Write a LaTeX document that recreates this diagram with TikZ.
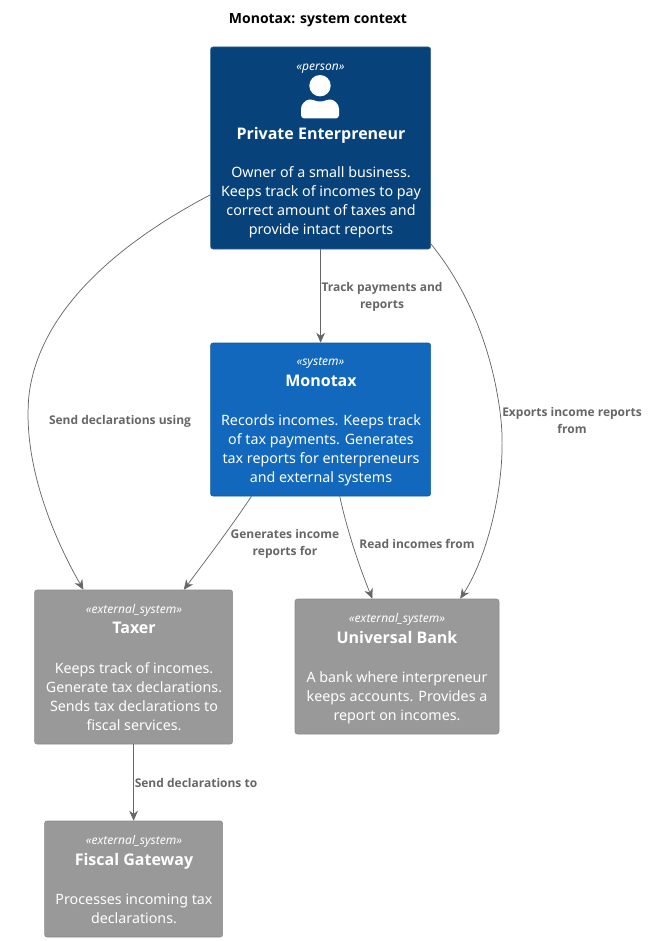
\documentclass[tikz,border=0pt]{standalone}
\usepackage{fontspec}
\setmainfont{Noto Sans}
\newfontfamily\boldface{Open Sans}
\usetikzlibrary{arrows.meta}
\definecolor{personblue}{HTML}{08427B}
\definecolor{systemblue}{HTML}{1168BD}
\definecolor{extgrey}{HTML}{999999}
\definecolor{linegrey}{HTML}{666666}
\newcommand{\stereo}[1]{{\fontsize{9}{10}\selectfont\itshape «#1»}}
\newcommand{\boxtitle}[1]{{\fontsize{12}{14}\selectfont\boldface\bfseries #1}}
\tikzset{
  sysbox/.style={rounded corners=1.8pt,text=white,align=center,inner sep=0pt,
    font=\fontsize{10.7}{14.25}\selectfont},
  personbox/.style={sysbox,fill=personblue,draw=personblue!85!white},
  intbox/.style={sysbox,fill=systemblue,draw=systemblue!85!black},
  extbox/.style={sysbox,fill=extgrey,draw=extgrey!90!black},
  rel/.style={draw=linegrey,line width=0.55pt,-{Stealth[length=7.5pt,width=6.5pt]}},
  rellabel/.style={text=linegrey,align=center,inner sep=0pt,
    font=\fontsize{9}{12.75}\selectfont\boldface\bfseries},
}
\begin{document}
\begin{tikzpicture}[x=0.75pt,y=-0.75pt]
\useasboundingbox (0,0) rectangle (647,941);

% Title
\node[inner sep=0pt,font=\fontsize{10.5}{13}\selectfont\boldface\bfseries] (title) at (318,20) {Monotax: system context};

% Boxes
\node[personbox,minimum width=165pt,minimum height=151.5pt] (pe) at (320.6,148) {};
\node[sysbox] (petop) at (320.5,69) {\stereo{person}};
\node[sysbox] (pename) at (321,135) {\boxtitle{Private Enterpreneur}};
\node[sysbox] (pedesc) at (321,202) {Owner of a small business.\\Keeps track of incomes to pay\\correct amount of taxes and\\provide intact reports};

\node[intbox,minimum width=165pt,minimum height=114.75pt] (monotax) at (320.6,419.5) {};
\node[sysbox] (monotaxtop) at (320.5,363) {\stereo{system}};
\node[sysbox] (monotaxname) at (321,381) {\boxtitle{Monotax}};
\node[sysbox] (monotaxdesc) at (321,450) {Records incomes. Keeps track\\of tax payments. Generates\\tax reports for enterpreneurs\\and external systems};

\node[extbox,minimum width=148.5pt,minimum height=115.5pt] (taxer) at (133.6,667) {};
\node[sysbox] (taxertop) at (134,610.5) {\stereo{external\_system}};
\node[sysbox] (taxername) at (134,628) {\boxtitle{Taxer}};
\node[sysbox] (taxerdesc) at (134,697) {Keeps track of incomes.\\Generate tax declarations.\\Sends tax declarations to\\fiscal services.};

\node[extbox,minimum width=153pt,minimum height=101.25pt] (bank) at (397,666.5) {};
\node[sysbox] (banktop) at (397,619.5) {\stereo{external\_system}};
\node[sysbox] (bankname) at (397,637) {\boxtitle{Universal Bank}};
\node[sysbox] (bankdesc) at (397,697.5) {A bank where interpreneur\\keeps accounts. Provides a\\report on incomes.};

\node[extbox,minimum width=133.5pt,minimum height=87pt] (fiscal) at (133.6,879) {};
\node[sysbox] (fiscaltop) at (134,841.5) {\stereo{external\_system}};
\node[sysbox] (fiscalname) at (134,861) {\boxtitle{Fiscal Gateway}};
\node[sysbox] (fiscaldesc) at (134,909) {Processes incoming tax\\declarations.};

% Person icon
\fill[white] (320,85.7) circle (10.7);
\fill[white,rounded corners=2.5pt] (301,118.5) -- (301,112) .. controls (301,104) and (306,99.5) .. (313,99.5)
  .. controls (317,101.5) and (323,101.5) .. (327,99.5) .. controls (334,99.5) and (339,104) .. (339,112) -- (339,118.5) -- cycle;

% Relations
\draw[rel] (pe.south) -- (monotax.north);
\draw[rel] (pe.203.1) .. controls (128,238) and (40,305) .. (29,395) .. controls (22,465) and (55,540) .. (taxer.123);
\draw[rel] (pe.-41.4) .. controls (470,292) and (494,355) .. (501,420) .. controls (507,480) and (488,556) .. (bank.47.4);
\draw[rel] (monotax.228.8) .. controls (231,527) and (206,560) .. (taxer.57);
\draw[rel] (monotax.-76.8) .. controls (347,530) and (359,566) .. (bank.110.3);
\draw[rel] (taxer.south) -- (fiscal.north);

% Relation labels
\node[rellabel] (trackl) at (382,297) {Track payments and\\reports};
\node[rellabel] (sendusingl) at (120,421) {Send declarations using};
\node[rellabel] (exportl) at (572,420) {Exports income reports\\from};
\node[rellabel] (genl) at (285,544) {Generates income\\reports for};
\node[rellabel] (readl) at (417,543.5) {Read incomes from};
\node[rellabel] (sendtol) at (196,783) {Send declarations to};
\end{tikzpicture}
\end{document}
